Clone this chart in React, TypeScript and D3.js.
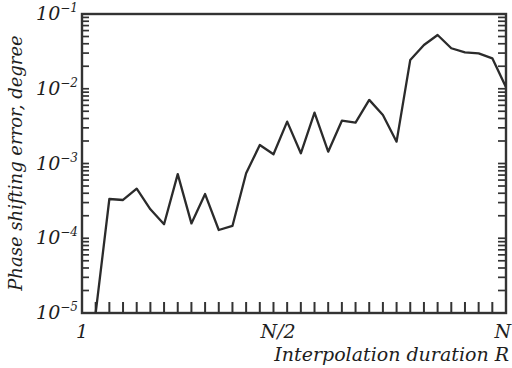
import React from "react";
import * as d3 from "d3";

const xIndex = [2, 3, 4, 5, 6, 7, 8, 9, 10, 11, 12, 13, 14, 15, 16, 17, 18, 19, 20, 21, 22, 23, 24, 25, 26, 27, 28, 29, 30, 31, 32];
const errorValues = [1e-5, 3.35e-4, 3.25e-4, 4.6e-4, 2.44e-4, 1.54e-4, 7.2e-4, 1.58e-4, 3.9e-4, 1.29e-4, 1.46e-4, 7.4e-4, 1.77e-3, 1.33e-3, 3.63e-3, 1.37e-3, 4.78e-3, 1.44e-3, 3.74e-3, 3.52e-3, 7.1e-3, 4.45e-3, 1.96e-3, 0.0243, 0.0385, 0.0524, 0.0348, 0.0307, 0.0298, 0.0255, 0.0105];
const xTickLabels = [{ v: 1, t: "1" }, { v: 16, t: "N/2" }, { v: 32, t: "N" }];
const yDecades = [-5, -4, -3, -2, -1];

const W = 512, H = 368;
const L = 82, R = 506, T = 14, B = 313;
const FONT = "'DejaVu Serif', serif";

export default function App() {
  const x = d3.scaleLinear().domain([1, 32]).range([L, R]);
  const y = d3.scaleLog().domain([1e-5, 1e-1]).range([B, T]);
  const data = xIndex.map((v, i) => [v, errorValues[i]] as [number, number]);
  const line = d3.line<[number, number]>().x(d => x(d[0])).y(d => y(Math.max(d[1], 1e-5)));

  const minor: number[] = [];
  for (let e = -5; e < -1; e++) {
    for (let k = 2; k <= 9; k++) minor.push(k * Math.pow(10, e));
  }
  const xTicks = d3.range(2, 32);

  return (
    <svg width={W} height={H} style={{ position: "absolute", left: 0, top: 0, background: "#fff" }}>
      <defs>
        <clipPath id="plot">
          <rect x={L} y={T} width={R - L} height={B - T} />
        </clipPath>
      </defs>
      {minor.map((v, i) => (
        <g key={"m" + i} stroke="#333" strokeWidth={1.7}>
          <line x1={L} x2={L + 7} y1={y(v)} y2={y(v)} />
          <line x1={R} x2={R - 8} y1={y(v)} y2={y(v)} />
        </g>
      ))}
      {yDecades.map((e, i) => (
        <g key={"d" + i} stroke="#333" strokeWidth={1.7}>
          <line x1={L} x2={L + 7} y1={y(Math.pow(10, e))} y2={y(Math.pow(10, e))} />
          <line x1={R} x2={R - 8} y1={y(Math.pow(10, e))} y2={y(Math.pow(10, e))} />
        </g>
      ))}
      {xTicks.map(v => (
        <line key={"xt" + v} x1={x(v)} x2={x(v)} y1={B} y2={B - 11} stroke="#333" strokeWidth={2} />
      ))}
      <rect x={L} y={T} width={R - L} height={B - T} fill="none" stroke="#333" strokeWidth={2.4} />
      <path d={line(data) || ""} fill="none" stroke="#2b2b2b" strokeWidth={2.3} strokeLinejoin="round" clipPath="url(#plot)" />
      {yDecades.map(e => (
        <text key={"yl" + e} x={L - 4} y={y(Math.pow(10, e)) + 6} textAnchor="end"
          fontFamily={FONT} fontStyle="italic" fontSize={19} fill="#1e1e1e">
          10<tspan dy={-8} fontSize={12}>{"\u2212" + Math.abs(e)}</tspan>
        </text>
      ))}
      {xTickLabels.map(d => (
        <text key={"xl" + d.t} x={x(d.v) + (d.v === 16 ? -9 : d.v === 32 ? 5 : 0)} y={338}
          textAnchor={d.v === 32 ? "end" : "middle"}
          fontFamily={FONT} fontStyle="italic" fontSize={19} fill="#1e1e1e">{d.t}</text>
      ))}
      <text x={509} y={361} textAnchor="end" fontFamily={FONT} fontStyle="italic" fontSize={19} fill="#1e1e1e">
        Interpolation duration R
      </text>
      <text transform={`translate(22,163) rotate(-90)`} textAnchor="middle" fontFamily={FONT}
        fontStyle="italic" fontSize={18} fill="#1e1e1e">
        Phase shifting error, degree
      </text>
    </svg>
  );
}
